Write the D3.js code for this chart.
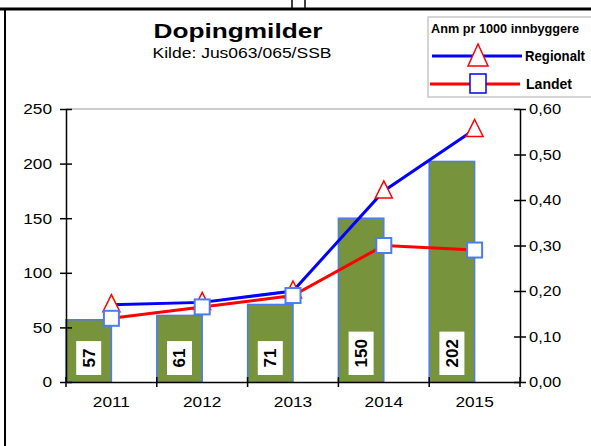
<!DOCTYPE html>
<html>
<head>
<meta charset="utf-8">
<script src="https://cdn.jsdelivr.net/npm/d3@7"></script>
<style>
  body { margin: 0; background: #fff; }
  svg { display: block; font-family: "Liberation Sans", Arial, sans-serif; }
</style>
</head>
<body>
<script>
  'use strict';

  var years = ['2011', '2012', '2013', '2014', '2015'];
  var counts = [57, 61, 71, 150, 202];
  var regionalt = [0.17, 0.175, 0.20, 0.42, 0.555];
  var landet = [0.14, 0.165, 0.19, 0.30, 0.29];
  var leftTicks = [0, 50, 100, 150, 200, 250];
  var rightTicks = [0, 0.1, 0.2, 0.3, 0.4, 0.5, 0.6];

  var W = 591, H = 446;
  var plot = {left: 66, right: 520, top: 109, bottom: 382};

  var svg = d3.select('body').append('svg')
    .attr('width', W)
    .attr('height', H);

  // widen text a bit, the reference font runs wide
  function stretch(sel, k)
  {
    sel.each(function()
    {
      var len = this.getComputedTextLength();
      d3.select(this).attr('textLength', len * k).attr('lengthAdjust', 'spacingAndGlyphs');
    });
  }

  // outer frame bits
  svg.append('line').attr('x1', 0).attr('y1', 9).attr('x2', W).attr('y2', 9)
    .attr('stroke', '#000').attr('stroke-width', 3);
  svg.append('line').attr('x1', 292).attr('y1', 0).attr('x2', 292).attr('y2', 9)
    .attr('stroke', '#000').attr('stroke-width', 1.5);
  svg.append('line').attr('x1', 305).attr('y1', 0).attr('x2', 305).attr('y2', 9)
    .attr('stroke', '#000').attr('stroke-width', 1.5);
  svg.append('line').attr('x1', 5).attr('y1', 9).attr('x2', 5).attr('y2', H)
    .attr('stroke', '#000').attr('stroke-width', 2);

  var x = d3.scaleBand().domain(years).range([plot.left, plot.right]).padding(0);
  var yL = d3.scaleLinear().domain([0, 250]).range([plot.bottom, plot.top]);
  var yR = d3.scaleLinear().domain([0, 0.6]).range([plot.bottom, plot.top]);
  var bw = x.bandwidth();

  // plot area top edge
  svg.append('line')
    .attr('x1', plot.left).attr('x2', plot.right)
    .attr('y1', plot.top).attr('y2', plot.top)
    .attr('stroke', '#999').attr('stroke-width', 1);

  // bars take the left half of each band
  svg.append('g').selectAll('rect')
    .data(counts)
    .join('rect')
    .attr('x', function(d, i) { return x(years[i]); })
    .attr('y', function(d) { return yL(d); })
    .attr('width', bw / 2)
    .attr('height', function(d) { return yL(0) - yL(d); })
    .attr('fill', '#77933c')
    .attr('stroke', '#4a7cf4')
    .attr('stroke-width', 1.5);

  // value labels on bars
  var lab = svg.append('g').selectAll('g')
    .data(counts)
    .join('g')
    .attr('transform', function(d, i) { return 'translate(' + (x(years[i]) + bw / 4) + ',375)'; });

  lab.append('rect').attr('fill', '#fff');
  lab.append('text')
    .attr('transform', 'rotate(-90)')
    .attr('dy', '0.35em')
    .attr('text-anchor', 'middle')
    .attr('font-size', 17)
    .attr('font-weight', 'bold')
    .text(function(d) { return d; });

  lab.each(function()
  {
    var g = d3.select(this);
    var t = g.select('text');
    var len = t.node().getComputedTextLength();
    var h = len + 15;
    t.attr('x', h / 2);
    g.select('rect').attr('x', -12.5).attr('y', -h).attr('width', 25).attr('height', h);
  });

  var cx = function(d, i) { return x(years[i]) + bw / 2; };

  // Regionalt
  svg.append('path')
    .datum(regionalt)
    .attr('fill', 'none')
    .attr('stroke', '#0000ff')
    .attr('stroke-width', 3)
    .attr('d', d3.line().x(cx).y(function(d) { return yR(d); }));

  svg.append('g').selectAll('path')
    .data(regionalt)
    .join('path')
    .attr('transform', function(d, i) { return 'translate(' + cx(d, i) + ',' + yR(d) + ')'; })
    .attr('d', 'M0,-10L8.5,7L-8.5,7Z')
    .attr('fill', '#fff')
    .attr('stroke', '#ff0000')
    .attr('stroke-width', 1.5);

  // Landet
  svg.append('path')
    .datum(landet)
    .attr('fill', 'none')
    .attr('stroke', '#ff0000')
    .attr('stroke-width', 3)
    .attr('d', d3.line().x(cx).y(function(d) { return yR(d); }));

  svg.append('g').selectAll('rect')
    .data(landet)
    .join('rect')
    .attr('x', function(d, i) { return cx(d, i) - 7.5; })
    .attr('y', function(d) { return yR(d) - 7.5; })
    .attr('width', 15)
    .attr('height', 15)
    .attr('fill', '#fff')
    .attr('stroke', '#4a7cf4')
    .attr('stroke-width', 2);

  // left axis
  var gL = svg.append('g')
    .attr('transform', 'translate(' + plot.left + ',0)')
    .call(d3.axisLeft(yL).tickValues(leftTicks).tickSizeInner(6).tickSizeOuter(0).tickPadding(8));
  gL.selectAll('.tick line').attr('x1', 6);
  gL.selectAll('.tick text').attr('font-size', 15).attr('font-family', null).attr('fill', '#000');
  gL.select('.domain').attr('stroke-width', 1.5);
  gL.selectAll('.tick line').attr('stroke-width', 1.5);
  stretch(gL.selectAll('.tick text'), 1.15);

  // right axis
  var gR = svg.append('g')
    .attr('transform', 'translate(' + plot.right + ',0)')
    .call(d3.axisRight(yR).tickValues(rightTicks).tickSizeInner(6).tickSizeOuter(0).tickPadding(3)
      .tickFormat(function(d) { return d.toFixed(2).replace('.', ','); }));
  gR.selectAll('.tick line').attr('x1', -6);
  gR.selectAll('.tick text').attr('font-size', 15).attr('font-family', null).attr('fill', '#000');
  gR.select('.domain').attr('stroke-width', 1.5);
  gR.selectAll('.tick line').attr('stroke-width', 1.5);
  stretch(gR.selectAll('.tick text'), 1.1);

  // x axis, ticks on band edges
  var gX = svg.append('g')
    .attr('transform', 'translate(0,' + plot.bottom + ')')
    .call(d3.axisBottom(x).tickSize(0).tickPadding(14));
  gX.select('.domain').attr('stroke-width', 1.5);
  gX.selectAll('.tick text').attr('font-size', 15).attr('font-family', null).attr('fill', '#000');
  stretch(gX.selectAll('.tick text'), 1.15);

  var edges = years.map(function(y) { return x(y); }).concat([x.range()[1]]);
  gX.selectAll('.edge')
    .data(edges)
    .join('line')
    .attr('class', 'edge')
    .attr('x1', function(d) { return d; })
    .attr('x2', function(d) { return d; })
    .attr('y1', -5)
    .attr('y2', 5)
    .attr('stroke', '#000')
    .attr('stroke-width', 1.5);

  // title
  svg.append('text')
    .attr('x', 238).attr('y', 38)
    .attr('text-anchor', 'middle')
    .attr('font-size', 21)
    .attr('font-weight', 'bold')
    .attr('textLength', 169)
    .attr('lengthAdjust', 'spacingAndGlyphs')
    .text('Dopingmilder');

  svg.append('text')
    .attr('x', 242).attr('y', 58)
    .attr('text-anchor', 'middle')
    .attr('font-size', 15)
    .attr('textLength', 179)
    .attr('lengthAdjust', 'spacingAndGlyphs')
    .text('Kilde: Jus063/065/SSB');

  // legend
  var lg = svg.append('g');
  lg.append('rect')
    .attr('x', 428).attr('y', 17)
    .attr('width', 170).attr('height', 80)
    .attr('fill', '#fff')
    .attr('stroke', '#c8c8c8')
    .attr('stroke-width', 1.5);

  lg.append('text')
    .attr('x', 431).attr('y', 33)
    .attr('font-size', 13)
    .attr('font-weight', 'bold')
    .attr('textLength', 148)
    .attr('lengthAdjust', 'spacingAndGlyphs')
    .text('Anm pr 1000 innbyggere');

  lg.append('line').attr('x1', 432).attr('x2', 522).attr('y1', 56).attr('y2', 56)
    .attr('stroke', '#0000ff').attr('stroke-width', 3);
  lg.append('path')
    .attr('transform', 'translate(478,57)')
    .attr('d', 'M0,-13L10,9L-10,9Z')
    .attr('fill', '#fff')
    .attr('stroke', '#ff0000')
    .attr('stroke-width', 1.5);
  lg.append('text')
    .attr('x', 525).attr('y', 61)
    .attr('font-size', 14)
    .attr('font-weight', 'bold')
    .attr('textLength', 60)
    .attr('lengthAdjust', 'spacingAndGlyphs')
    .text('Regionalt');

  lg.append('line').attr('x1', 430).attr('x2', 520).attr('y1', 84).attr('y2', 84)
    .attr('stroke', '#ff0000').attr('stroke-width', 3);
  lg.append('rect')
    .attr('x', 470).attr('y', 74)
    .attr('width', 16).attr('height', 19)
    .attr('fill', '#fff')
    .attr('stroke', '#0000ff')
    .attr('stroke-width', 1.5);
  lg.append('text')
    .attr('x', 526).attr('y', 89)
    .attr('font-size', 14)
    .attr('font-weight', 'bold')
    .attr('textLength', 46)
    .attr('lengthAdjust', 'spacingAndGlyphs')
    .text('Landet');
</script>
</body>
</html>
